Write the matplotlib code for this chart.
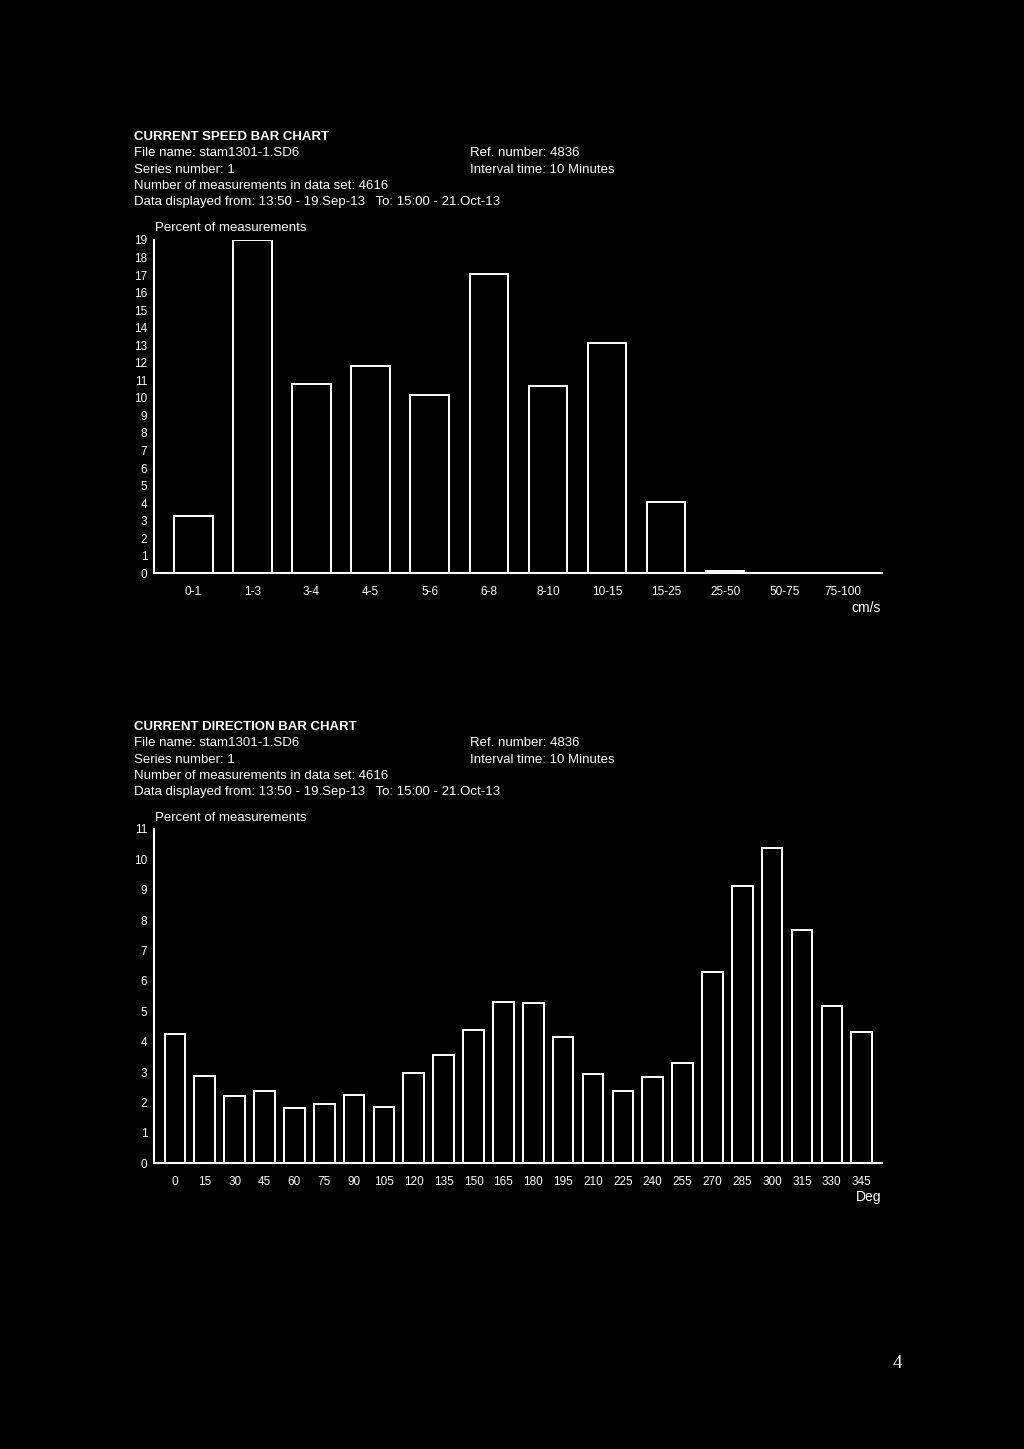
import matplotlib
matplotlib.use("Agg")
import matplotlib.pyplot as plt
import numpy as np

plt.rcParams['font.family'] = ['Liberation Sans', 'DejaVu Sans']

W, H = 1024, 1449

# --- data ---
speed_classes = ['0-1', '1-3', '3-4', '4-5', '5-6', '6-8', '8-10',
                 '10-15', '15-25', '25-50', '50-75', '75-100']
speed_pct = [3.29, 19.0, 10.78, 11.83, 10.15, 17.07, 10.67,
             13.14, 4.05, 0.12, 0.03, 0.03]
speed_yticks = list(range(0, 20))

dir_labels = ['0', '15', '30', '45', '60', '75', '90', '105', '120', '135',
              '150', '165', '180', '195', '210', '225', '240', '255', '270',
              '285', '300', '315', '330', '345']
dir_pct = [4.25, 2.88, 2.22, 2.39, 1.82, 1.96, 2.26, 1.86, 2.98, 3.55,
           4.39, 5.31, 5.29, 4.15, 2.93, 2.39, 2.85, 3.29, 6.31, 9.12,
           10.37, 7.68, 5.18, 4.33]
dir_yticks = list(range(0, 12))

header_left = ["File name: stam1301-1.SD6",
               "Series number: 1",
               "Number of measurements in data set: 4616",
               "Data displayed from: 13:50 - 19.Sep-13   To: 15:00 - 21.Oct-13"]
header_right = ["Ref. number: 4836", "Interval time: 10 Minutes"]


def px(x, y):
    return x / W, 1 - y / H


def header(fig, title, y0):
    fig.text(*px(134, y0), title, color='white', fontsize=9.5, fontweight='bold', va='center')
    for i, line in enumerate(header_left):
        fig.text(*px(134, y0 + 16.3 * (i + 1)), line, color='white', fontsize=9.5, va='center')
    for i, line in enumerate(header_right):
        fig.text(*px(470, y0 + 16.3 * (i + 1)), line, color='white', fontsize=9.5, va='center')


def bar_chart(fig, rect, labels, values, yticks, bar_w, xpad, unit, ylabel_y, unit_y):
    ax = fig.add_axes(rect)
    ax.set_facecolor('black')
    x = np.arange(len(labels))
    ax.bar(x, values, width=bar_w, facecolor='black', edgecolor='white', linewidth=1.4)
    ax.set_xlim(-xpad, len(labels) - 1 + xpad)
    ax.set_ylim(0, yticks[-1])
    ax.set_xticks(x)
    ax.set_xticklabels(labels)
    ax.set_yticks(yticks)
    ax.tick_params(colors='white', length=0, labelsize=8.5)
    ax.tick_params(axis='x', pad=9)
    ax.tick_params(axis='y', pad=5)
    for s in ['top', 'right']:
        ax.spines[s].set_visible(False)
    for s in ['left', 'bottom']:
        ax.spines[s].set_color('white')
        ax.spines[s].set_linewidth(1.5)
    fig.text(*px(155, ylabel_y), "Percent of measurements", color='white', fontsize=9.5, va='center')
    fig.text(*px(881, unit_y), unit, color='white', fontsize=10, va='center', ha='right')
    return ax


fig = plt.figure(figsize=(W / 100, H / 100), dpi=100, facecolor='black')

header(fig, "CURRENT SPEED BAR CHART", 137)
bar_chart(fig, [154.3 / W, 1 - 573.3 / H, 728 / W, 333.3 / H],
          speed_classes, speed_pct, speed_yticks, 0.65, 0.66, "cm/s", 228, 608)

header(fig, "CURRENT DIRECTION BAR CHART", 727)
bar_chart(fig, [154.3 / W, 1 - 1163.3 / H, 728 / W, 334.3 / H],
          dir_labels, dir_pct, dir_yticks, 0.69, 0.69, "Deg", 818, 1197)

fig.text(*px(897, 1364), "4", color='white', fontsize=13.5, ha='center', va='center',
         family='Liberation Serif')

fig.savefig("out.png", dpi=100, facecolor='black')
